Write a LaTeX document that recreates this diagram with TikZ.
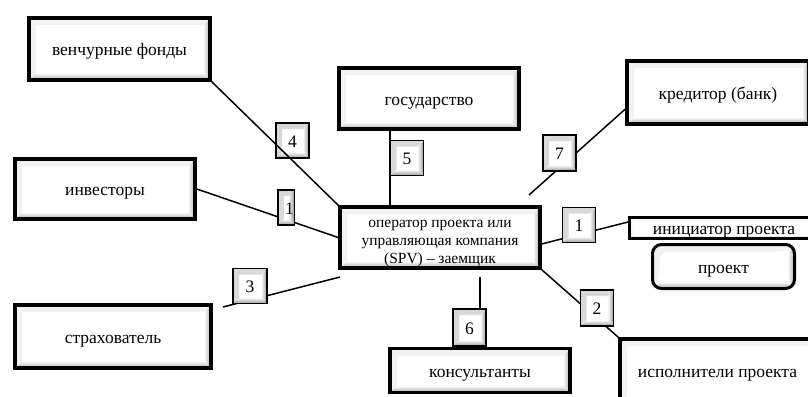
\documentclass[tikz,border=0pt]{standalone}
\usepackage{fontspec}
\setmainfont{Liberation Serif}
\usetikzlibrary{calc,backgrounds}

% bevel inside a framed shape: #1 depth, #2 shadow colour, #3 highlight colour
\newcommand\bevelfill[3]{%
  \path (path picture bounding box.south west) coordinate (bvSW)
        (path picture bounding box.north east) coordinate (bvNE)
        (path picture bounding box.south east) coordinate (bvSE)
        (path picture bounding box.north west) coordinate (bvNW);
  \shade[top color=white,bottom color=#2]
    (bvSW) -- (bvSE) -- ([shift={(-#1,#1)}]bvSE) -- ([shift={(#1,#1)}]bvSW) -- cycle;
  \shade[left color=white,right color=#2]
    (bvSE) -- (bvNE) -- ([shift={(-#1,-#1)}]bvNE) -- ([shift={(-#1,#1)}]bvSE) -- cycle;
  \fill[#3]
    (bvSW) -- (bvNW) -- (bvNE) -- ([shift={(-#1,-#1)}]bvNE) -- ([shift={(#1,-#1)}]bvNW) -- ([shift={(#1,#1)}]bvSW) -- cycle;
}

\tikzset{
  txt/.style={font=\fontsize{17.5}{19}\selectfont, text height=15pt, text depth=2pt},
  party/.style={draw=black, line width=3.5pt, fill=white, inner sep=0pt, align=center, txt,
    path picture={\bevelfill{7pt}{gray!65}{gray!10}}},
  roundparty/.style={party, line width=3pt, rounded corners=9pt},
  tag/.style={draw=black, line width=1.5pt, fill=white, inner sep=0pt, txt,
    minimum width=33pt, minimum height=35pt,
    path picture={\bevelfill{6pt}{gray!80}{gray!30}}},
  conn/.style={draw=black, line width=1.5pt},
}

\begin{document}
\begin{tikzpicture}[x=1pt,y=-1pt]
\useasboundingbox (0,0) rectangle (808,396);
\clip (0,0) rectangle (808,396);

% participants
\node[party, minimum width=181pt, minimum height=62pt] (ven)  at (119.5,49)  {венчурные фонды};
\node[party, minimum width=180pt, minimum height=61pt] (gos)  at (429,98.5)  {государство};
\node[party, minimum width=182pt, minimum height=63pt] (kred) at (718,92.5)  {кредитор (банк)};
\node[party, minimum width=180pt, minimum height=60pt] (inv)  at (105,189)   {инвесторы};
\node[draw=black, line width=3.5pt, fill=white, inner sep=0pt, align=center,
      font=\fontsize{15.5}{18}\selectfont,
      path picture={\bevelfill{7pt}{gray!65}{gray!10}},
      minimum width=200pt, minimum height=61pt] (cen)  at (440,237.5)
  {\rule{0pt}{18.3pt}оператор проекта или\\управляющая компания\\(SPV) – заемщик};
\node[party, line width=3pt, minimum width=189pt, minimum height=21pt,
      path picture={\bevelfill{3pt}{gray!55}{gray!8}}] (init) at (724,228) {инициатор проекта};
\node[roundparty, minimum width=142pt, minimum height=44pt] (proj) at (723.5,266.5) {проект};
\node[party, minimum width=196pt, minimum height=63pt] (strah) at (113,336.5) {страхователь};
\node[party, minimum width=180pt, minimum height=44pt] (kons)  at (480,370.5) {консультанты};
\node[party, minimum width=195pt, minimum height=64pt] (isp)   at (717.5,371) {исполнители проекта};

% numbered tags
\node[tag] (n4)  at (292.5,140.5) {4};
\node[tag, minimum width=16.5pt] (n1a) at (286,207.5) {\hspace*{7pt}1};
\node[tag] (n5)  at (407,158)   {5};
\node[tag, minimum height=36pt] (n7)  at (559.5,153) {7};
\node[tag] (n1b) at (579,225)   {1};
\node[tag, minimum width=34pt] (n3)  at (250,286) {3};
\node[tag, minimum height=37pt] (n6)  at (469.5,327.5) {6};
\node[tag, minimum height=36pt] (n2)  at (597,308) {2};

% free ends of the open connectors
\coordinate (c7) at (529,195);
\coordinate (c3a) at (340,277);
\coordinate (c3b) at (223,307);
\coordinate (c6) at (480,277);

% connectors running behind the tags
\begin{pgfonlayer}{background}
  \draw[conn] (inv.east) -- (cen.west);
  \draw[conn] (gos.south -| n5.west) -- (cen.north -| n5.west);
  \draw[conn] ($(kred.south west)!0.25!(kred.north west)$) -- (c7);
  \draw[conn] ($(cen.south east)!0.4!(cen.north east)$) -- ($(init.south west)!0.75!(init.north west)$);
  \draw[conn] (cen.south east) -- (isp.north west);
  \draw[conn] (c3a) -- (c3b);
  \draw[conn] (c6) -- (n6.north -| c6);
\end{pgfonlayer}

% this one crosses over tag 4
\draw[conn] (ven.south east) -- (cen.north west);
\end{tikzpicture}
\end{document}
